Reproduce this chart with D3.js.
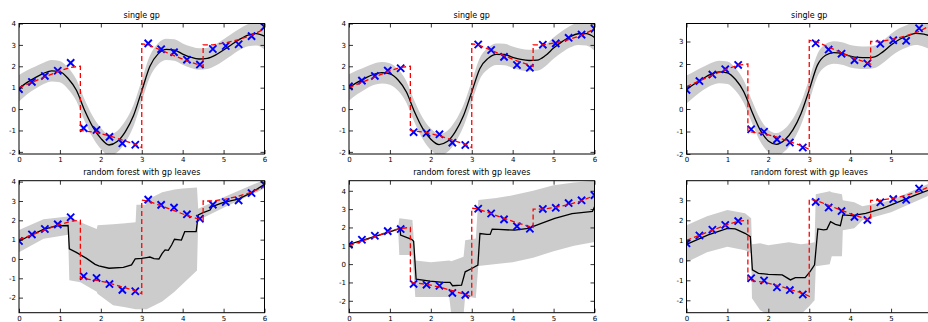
<!DOCTYPE html>
<html>
<head>
<meta charset="utf-8">
<script src="https://cdn.jsdelivr.net/npm/d3@7"></script>
<style>
body { margin: 0; background: #fff; }
text { font-family: "DejaVu Sans", sans-serif; }
</style>
</head>
<body>
<script>
// training inputs (same for every panel)
var xTrain = [0, 0.316, 0.632, 0.947, 1.263, 1.579, 1.895, 2.211, 2.526, 2.842, 3.158, 3.474, 3.789, 4.105, 4.421, 4.737, 5.053, 5.368, 5.684, 6.0];
// noisy targets, one set per column
var yTrain1 = [0.93, 1.27, 1.55, 1.79, 2.16, -0.89, -0.98, -1.3, -1.6, -1.67, 3.07, 2.8, 2.66, 2.31, 2.08, 2.81, 2.95, 3.03, 3.41, 3.84];
var yTrain2 = [1.06, 1.33, 1.55, 1.8, 1.91, -1.08, -1.12, -1.18, -1.57, -1.68, 3.02, 2.76, 2.44, 2.06, 1.93, 3.01, 3.07, 3.33, 3.48, 3.76];
var yTrain3 = [0.85, 1.24, 1.53, 1.77, 1.96, -0.9, -1.01, -1.35, -1.49, -1.71, 2.92, 2.64, 2.46, 2.17, 2.02, 2.9, 3.06, 3.03, 3.59, 3.75];

// true function (red dashed)
var trueX = [0, 0.316, 0.632, 0.947, 1.263, 1.5, 1.5, 1.895, 2.211, 2.526, 2.842, 3.0, 3.0, 3.158, 3.474, 3.789, 4.105, 4.421, 4.5, 4.5, 4.737, 5.053, 5.368, 5.684, 6.0];
var trueY = [1.0, 1.25, 1.5, 1.75, 1.95, 2.0, -1.0, -1.1, -1.25, -1.45, -1.65, -1.8, 3.05, 3.0, 2.75, 2.5, 2.25, 2.05, 2.0, 3.0, 3.0, 3.1, 3.25, 3.45, 3.75];

// single gp: mean on a grid + half width of the grey band
var gpX = [0, 0.2, 0.4, 0.6, 0.8, 1, 1.2, 1.4, 1.6, 1.8, 2, 2.2, 2.4, 2.6, 2.8, 3, 3.2, 3.4, 3.6, 3.8, 4, 4.2, 4.4, 4.6, 4.8, 5, 5.2, 5.4, 5.6, 5.8, 6];
var gpMean1 = [0.97, 1.25, 1.47, 1.67, 1.79, 1.75, 1.43, 0.89, -0.04, -0.82, -1.37, -1.68, -1.52, -1.05, -0.3, 0.85, 2.0, 2.58, 2.79, 2.76, 2.57, 2.42, 2.34, 2.37, 2.52, 2.76, 3.02, 3.27, 3.46, 3.53, 3.41];
var gpMean2 = [1.01, 1.25, 1.45, 1.62, 1.70, 1.64, 1.36, 0.81, -0.12, -0.9, -1.41, -1.66, -1.52, -1.05, -0.3, 0.8, 1.9, 2.37, 2.56, 2.55, 2.42, 2.32, 2.27, 2.29, 2.5, 2.85, 3.14, 3.38, 3.52, 3.53, 3.35];
var gpMean3 = [0.87, 1.12, 1.35, 1.55, 1.65, 1.61, 1.31, 0.77, -0.12, -0.93, -1.42, -1.57, -1.38, -0.93, -0.2, 0.85, 1.95, 2.39, 2.51, 2.47, 2.35, 2.29, 2.28, 2.32, 2.54, 2.84, 3.09, 3.25, 3.36, 3.33, 3.2];
var gpBand = [0.62, 0.56, 0.52, 0.5, 0.5, 0.5, 0.5, 0.5, 0.5, 0.5, 0.5, 0.5, 0.5, 0.5, 0.5, 0.5, 0.5, 0.5, 0.5, 0.5, 0.5, 0.5, 0.5, 0.5, 0.5, 0.5, 0.5, 0.5, 0.52, 0.56, 0.62];

// random forest with gp leaves, column 1
var rf1X = [0, 0.3, 0.6, 0.9, 1.2, 1.23, 1.4, 1.65, 1.86, 1.95, 2.2, 2.55, 2.75, 2.84, 3.0, 3.12, 3.2, 3.3, 3.42, 3.5, 3.57, 3.65, 3.73, 3.8, 3.97, 4.05, 4.33, 4.38, 4.5, 4.67, 4.72, 5.0, 5.36, 5.68, 6.0];
var rf1Y = [0.92, 1.24, 1.53, 1.71, 1.73, 0.52, 0.34, 0.03, -0.28, -0.36, -0.48, -0.43, -0.31, 0.0, 0.03, 0.07, 0.1, 0.02, 0.0, 0.29, 0.47, 0.45, 0.72, 1.02, 0.98, 1.41, 1.42, 2.28, 2.4, 2.53, 2.71, 2.93, 3.1, 3.43, 3.86];
var rf1BandX = [0, 0.6, 1.2, 1.23, 1.5, 1.9, 1.92, 2.3, 2.6, 2.85, 2.87, 3.1, 3.12, 3.5, 3.8, 4.0, 4.35, 4.38, 5.0, 6.0];
var rf1Hi = [1.5, 2.05, 2.2, 2.2, 1.9, 1.55, 1.75, 1.8, 1.85, 1.9, 2.8, 2.8, 3.05, 3.45, 3.6, 3.65, 3.7, 2.6, 3.2, 4.1];
var rf1Lo = [0.35, 1.05, 1.25, -1.1, -1.2, -1.7, -1.8, -2.4, -2.5, -2.6, -2.6, -2.6, -2.6, -2.2, -1.7, -1.3, -0.6, 2.0, 2.65, 3.65];

// column 2
var rf2X = [0, 1.0, 1.25, 1.26, 1.53, 1.58, 1.64, 1.98, 2.3, 2.47, 2.53, 2.75, 2.84, 3.0, 3.15, 3.2, 3.37, 3.45, 3.5, 3.65, 4.05, 4.38, 4.7, 5.03, 5.45, 5.85, 5.95, 6.0];
var rf2Y = [1.07, 1.76, 1.95, 1.58, 1.35, 1.25, -0.82, -0.93, -1.0, -1.0, -1.18, -1.15, -0.42, -0.24, -0.05, 1.67, 1.62, 1.62, 1.91, 1.89, 1.85, 1.95, 2.22, 2.49, 2.76, 2.85, 2.87, 3.13];
var rf2BandX = [0, 1.2, 1.23, 1.55, 1.62, 2.0, 2.45, 2.5, 2.8, 2.84, 3.1, 3.16, 3.6, 4.0, 4.5, 5.0, 5.5, 6.0];
var rf2Hi = [1.1, 1.98, 2.5, 2.4, 0.2, 0.1, 0.2, 0.15, 0.4, 1.3, 1.4, 3.5, 3.6, 3.75, 4.0, 4.3, 4.45, 4.55];
var rf2Lo = [1.04, 1.92, 0.5, 0.5, -1.8, -1.8, -1.8, -2.75, -2.75, -1.75, -1.85, -0.1, 0.0, 0.1, 0.35, 0.7, 1.0, 1.2];

// column 3
var rf3X = [0, 0.53, 1.0, 1.19, 1.43, 1.56, 1.61, 1.76, 2.0, 2.34, 2.54, 2.66, 2.9, 3.02, 3.13, 3.21, 3.35, 3.43, 3.52, 3.64, 3.76, 3.82, 4.05, 4.38, 4.79, 5.2, 5.61, 5.93, 6.0];
var rf3Y = [0.8, 1.27, 1.6, 1.57, 1.35, 1.18, -0.48, -0.65, -0.7, -0.73, -0.98, -0.87, -0.87, -0.57, -0.23, 1.57, 1.52, 1.55, 1.93, 1.8, 1.73, 2.27, 2.23, 2.35, 2.6, 2.93, 3.27, 3.52, 3.55];
var rf3BandX = [0, 0.5, 1.0, 1.43, 1.58, 1.6, 1.8, 2.0, 2.5, 2.8, 3.0, 3.13, 3.16, 3.5, 3.55, 3.8, 3.82, 4.1, 4.3, 5.0, 6.0];
var rf3Hi = [1.75, 2.2, 2.52, 2.35, 2.1, 0.8, 0.85, 0.75, 0.9, 0.8, 0.85, 0.9, 3.3, 3.45, 3.4, 3.3, 3.0, 2.9, 2.7, 3.0, 3.9];
var rf3Lo = [-0.1, 0.4, 0.68, 0.5, 0.35, -1.9, -2.5, -2.7, -2.7, -2.7, -2.3, -2.0, -0.3, -0.2, 0.2, 0.2, 1.5, 1.6, 2.0, 2.4, 3.3];

var xTicks = [0, 1, 2, 3, 4, 5, 6];
var titles = ["single gp", "random forest with gp leaves"];
var yLims = [[-2.1, 4], [-2.1, 4], [-2.0, 3.8], [-2.78, 4.05], [-2.65, 4.55], [-2.62, 3.98]];

// layout (pixels)
var W = 928, H = 322;
var colLeft = [19, 349, 686.5];
var panelW = 245.5;
var rowTop = [23.5, 180.7];
var panelH = [130.5, 132];

var svg = d3.select("body").append("svg")
	.attr("width", W)
	.attr("height", H);

var zip = function(xs, ys){
	return xs.map(function(d, i){ return [d, ys[i]]; });
};
var zip3 = function(xs, lo, hi){
	return xs.map(function(d, i){ return [d, lo[i], hi[i]]; });
};
var gpPanel = function(mean, yt){
	return {
		mean: zip(gpX, mean),
		band: zip3(gpX, mean.map(function(m, i){ return m - gpBand[i]; }), mean.map(function(m, i){ return m + gpBand[i]; })),
		pts: zip(xTrain, yt),
		smooth: true
	};
};

var panels = [
	gpPanel(gpMean1, yTrain1),
	gpPanel(gpMean2, yTrain2),
	gpPanel(gpMean3, yTrain3),
	{mean: zip(rf1X, rf1Y), band: zip3(rf1BandX, rf1Lo, rf1Hi), pts: zip(xTrain, yTrain1), smooth: false},
	{mean: zip(rf2X, rf2Y), band: zip3(rf2BandX, rf2Lo, rf2Hi), pts: zip(xTrain, yTrain2), smooth: false},
	{mean: zip(rf3X, rf3Y), band: zip3(rf3BandX, rf3Lo, rf3Hi), pts: zip(xTrain, yTrain3), smooth: false}
];
var truth = zip(trueX, trueY);

panels.forEach(function(p, k){
	var row = Math.floor(k / 3), col = k % 3;
	var w = panelW, h = panelH[row];
	var g = svg.append("g")
		.attr("transform", "translate(" + colLeft[col] + "," + rowTop[row] + ")");

	var x = d3.scaleLinear().domain([0, 6]).range([0, w]);
	var y = d3.scaleLinear().domain(yLims[k]).range([h, 0]);
	var curve = p.smooth ? d3.curveMonotoneX : d3.curveLinear;

	g.append("clipPath").attr("id", "clip" + k)
		.append("rect").attr("width", w).attr("height", h);
	var plot = g.append("g").attr("clip-path", "url(#clip" + k + ")");

	var area = d3.area()
		.x(function(d){ return x(d[0]); })
		.y0(function(d){ return y(d[1]); })
		.y1(function(d){ return y(d[2]); })
		.curve(curve);
	plot.append("path")
		.attr("d", area(p.band))
		.attr("fill", "#cccccc")
		.attr("stroke", "none");

	var line = d3.line()
		.x(function(d){ return x(d[0]); })
		.y(function(d){ return y(d[1]); });

	plot.append("path")
		.attr("d", line.curve(curve)(p.mean))
		.attr("fill", "none")
		.attr("stroke", "black")
		.attr("stroke-width", 1.3);

	// blue x markers
	var s = 3.6;
	plot.selectAll("path.mk").data(p.pts).enter().append("path")
		.attr("class", "mk")
		.attr("d", function(d){
			var cx = x(d[0]), cy = y(d[1]);
			return "M" + (cx - s) + "," + (cy - s) + "L" + (cx + s) + "," + (cy + s) +
				"M" + (cx - s) + "," + (cy + s) + "L" + (cx + s) + "," + (cy - s);
		})
		.attr("stroke", "#0000ff")
		.attr("stroke-width", 1.9)
		.attr("fill", "none");

	plot.append("path")
		.attr("d", line.curve(d3.curveLinear)(truth))
		.attr("fill", "none")
		.attr("stroke", "#ff0000")
		.attr("stroke-width", 1.3)
		.attr("stroke-dasharray", "5,3");

	// ticks point inwards, on all four sides; the third column runs past the page edge
	var shownX = xTicks.filter(function(v){ return colLeft[col] + x(v) + 3 < W; });
	var yTicks = d3.range(Math.ceil(yLims[k][0]), Math.floor(yLims[k][1]) + 1);
	var fmt = function(d){ return String(d); };
	var axB = g.append("g").attr("transform", "translate(0," + h + ")")
		.call(d3.axisBottom(x).tickValues(shownX).tickFormat(fmt).tickSizeInner(-4).tickSizeOuter(0).tickPadding(3));
	var axT = g.append("g")
		.call(d3.axisTop(x).tickValues(shownX).tickFormat("").tickSizeInner(-4).tickSizeOuter(0));
	var axL = g.append("g")
		.call(d3.axisLeft(y).tickValues(yTicks).tickFormat(fmt).tickSizeInner(-4).tickSizeOuter(0).tickPadding(3));
	var axR = g.append("g").attr("transform", "translate(" + w + ",0)")
		.call(d3.axisRight(y).tickValues(yTicks).tickFormat("").tickSizeInner(-4).tickSizeOuter(0));
	[axB, axT, axL, axR].forEach(function(a){
		a.select(".domain").remove();
		a.selectAll("line").attr("stroke", "black").attr("stroke-width", 0.8);
		a.selectAll("text").attr("font-size", 7).attr("fill", "#000")
			.attr("font-family", "DejaVu Sans, sans-serif");
	});

	g.append("rect")
		.attr("width", w).attr("height", h)
		.attr("fill", "none")
		.attr("stroke", "black")
		.attr("stroke-width", 1);

	g.append("text")
		.attr("x", w / 2)
		.attr("y", -5.5)
		.attr("text-anchor", "middle")
		.attr("font-size", 8)
		.attr("fill", "#000")
		.text(titles[row]);
});
</script>
</body>
</html>
